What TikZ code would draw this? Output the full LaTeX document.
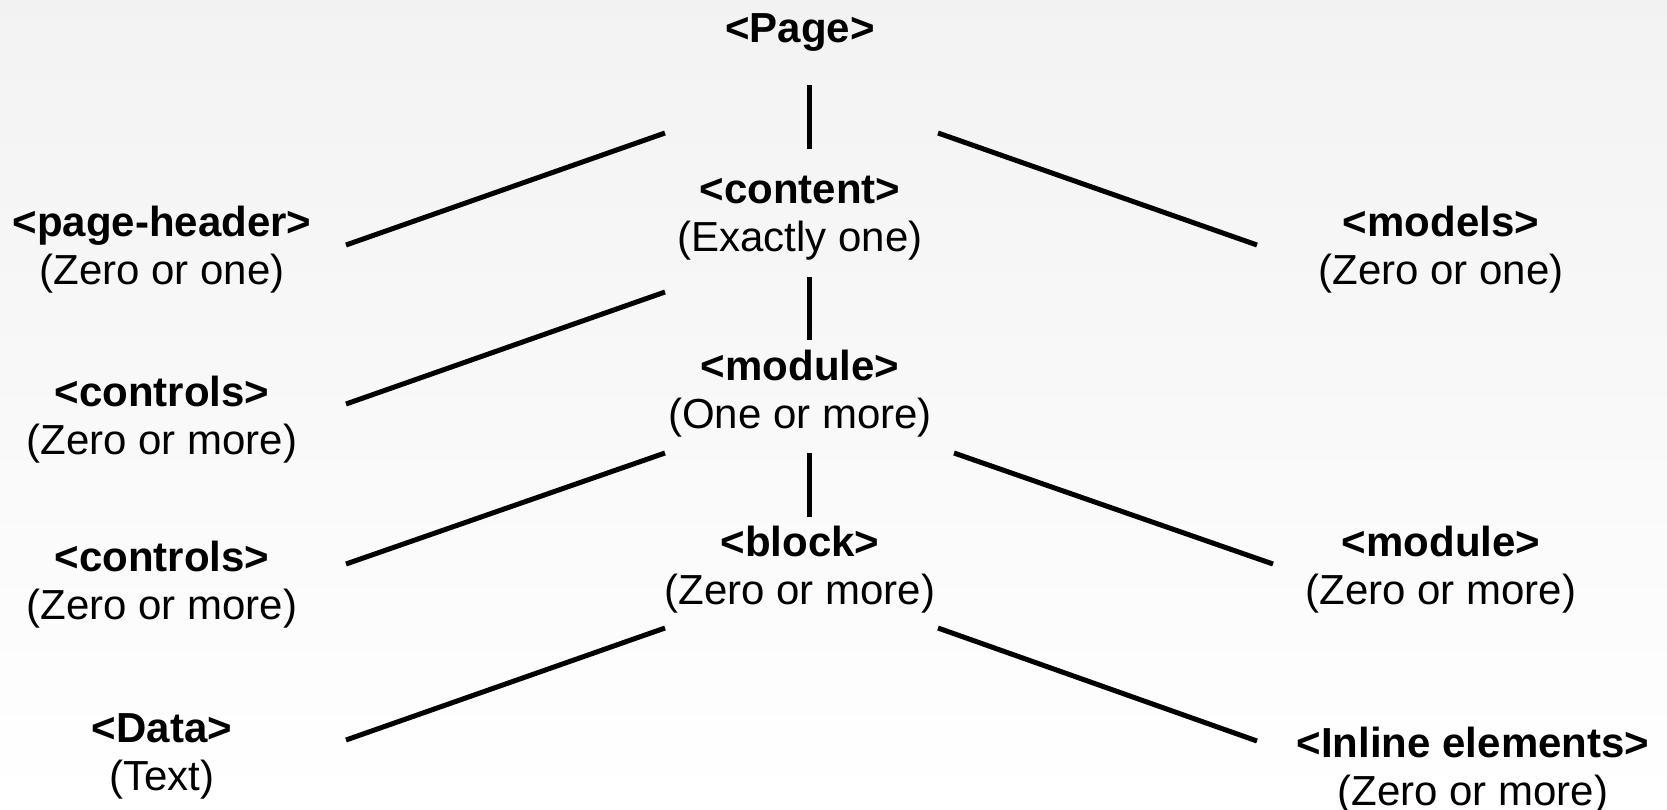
\documentclass[tikz,border=0pt]{standalone}
\usepackage{fontspec}
\setmainfont{Liberation Sans}
\tikzset{
  lbl/.style={align=center, inner sep=0pt, font=\fontsize{42}{48}\selectfont},
  link/.style={line width=5pt, black},
}
\begin{document}
\begin{tikzpicture}[x=1pt,y=-1pt]
  % soft grey-to-white backdrop
  \shade[top color=black!5, bottom color=white] (0,0) rectangle (1667,809);
  \useasboundingbox (0,0) rectangle (1667,809);

  % centre column
  \node[lbl] (page)    at (800,33)  {\textbf{<Page>}};
  \node[lbl] (content) at (800,218) {\textbf{<content>}\\(Exactly one)};
  \node[lbl] (module)  at (800,394) {\textbf{<module>}\\(One or more)};
  \node[lbl] (block)   at (800,570) {\textbf{<block>}\\(Zero or more)};

  % left column
  \node[lbl] (pagehdr) at (162,250) {\textbf{<page-header>}\\(Zero or one)};
  \node[lbl] (ctrlA)   at (162,420) {\textbf{<controls>}\\(Zero or more)};
  \node[lbl] (ctrlB)   at (162,585) {\textbf{<controls>}\\(Zero or more)};
  \node[lbl] (data)    at (162,756) {\textbf{<Data>}\\(Text)};

  % right column
  \node[lbl] (models)  at (1441,250) {\textbf{<models>}\\(Zero or one)};
  \node[lbl] (moduleB) at (1441,570) {\textbf{<module>}\\(Zero or more)};
  \node[lbl] (inline)  at (1473,771) {\textbf{<Inline elements>}\\(Zero or more)};

  % connector end points
  \coordinate (pageA)    at (809,85);   \coordinate (contentA) at (809,149);
  \coordinate (contentB) at (809,277);  \coordinate (moduleA)  at (809,340);
  \coordinate (moduleC)  at (809,453);  \coordinate (blockA)   at (809,517);
  \coordinate (pageL)    at (665,133);  \coordinate (pagehdrR) at (346,245);
  \coordinate (pageR)    at (938,133);  \coordinate (modelsL)  at (1257,245);
  \coordinate (contentL) at (665,292);  \coordinate (ctrlAR)   at (346,404);
  \coordinate (moduleL)  at (665,453);  \coordinate (ctrlBR)   at (346,564);
  \coordinate (moduleR)  at (954,453);  \coordinate (moduleBL) at (1273,564);
  \coordinate (blockL)   at (665,628);  \coordinate (dataR)    at (346,740);
  \coordinate (blockR)   at (938,628);  \coordinate (inlineL)  at (1257,741);

  % tree connectors
  \draw[link] (pageA) -- (contentA);
  \draw[link] (contentB) -- (moduleA);
  \draw[link] (moduleC) -- (blockA);
  \draw[link] (pageL) -- (pagehdrR);
  \draw[link] (pageR) -- (modelsL);
  \draw[link] (contentL) -- (ctrlAR);
  \draw[link] (moduleL) -- (ctrlBR);
  \draw[link] (moduleR) -- (moduleBL);
  \draw[link] (blockL) -- (dataR);
  \draw[link] (blockR) -- (inlineL);
\end{tikzpicture}
\end{document}
